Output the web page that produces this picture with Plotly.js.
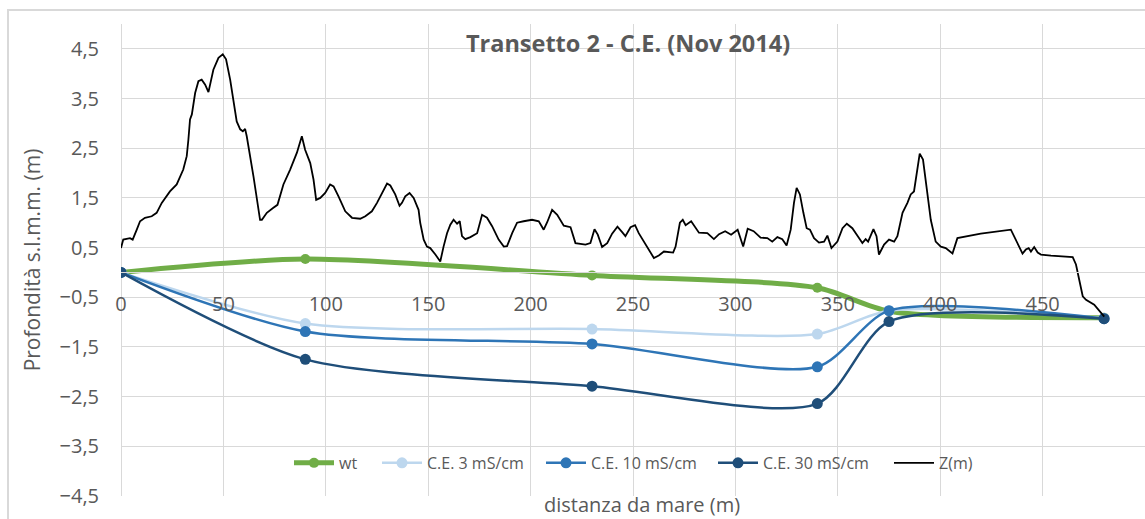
<!DOCTYPE html>
<html>
<head>
<meta charset="utf-8">
<script src="https://cdn.plot.ly/plotly-3.0.1.min.js"></script>
<style>
  html, body { margin: 0; padding: 0; width: 1145px; height: 519px; overflow: hidden; background: #fff; }
  #frame { position: absolute; left: 7px; top: 9px; width: 1300px; height: 700px; border: 2px solid #d9d9d9; box-sizing: border-box; }
  #chart { position: absolute; left: 0; top: 0; width: 1145px; height: 519px; }
</style>
</head>
<body>
<div id="frame"></div>
<div id="chart"></div>
<script>
// Measurement points (distance from sea, m)
const wtX = [0, 90, 230, 340, 375, 480];
const wtY = [0, 0.27, -0.06, -0.31, -0.78, -0.91];

const ceX = [0, 90, 230, 340, 375, 480];
const ce3Y = [0, -1.03, -1.14, -1.24, -0.77, -0.92];
const ce10Y = [0, -1.19, -1.44, -1.90, -0.77, -0.93];
const ce30Y = [0, -1.75, -2.29, -2.64, -0.99, -0.93];

// Ground profile Z(m)
const zX = [0,1.1,4.4,5.7,7.7,9.3,11.7,15.0,17.4,19.9,
23.9,27.2,30.4,32.1,32.9,33.7,34.6,36.2,37.8,39.4,
41.1,42.7,45.1,47.6,49.7,51.3,53.3,54.9,56.5,58.2,
59.5,60.6,61.4,64.7,67.9,68.8,71.2,74.4,76.4,79.3,
82.6,85.9,87.5,88.3,89.9,92.4,94.0,95.3,97.3,99.7,
102.1,103.8,106.2,109.5,112.8,116.8,119.3,122.5,125.0,127.4,
129.9,131.5,133.9,136.0,137.2,138.8,140.9,142.9,144.5,145.3,
146.1,147.8,149.4,151.0,153.5,155.9,157.5,159.2,160.8,162.4,
164.1,165.4,166.5,168.1,170.6,173.9,176.3,178.7,181.2,184.4,
186.9,188.5,191.0,193.4,196.6,200.7,204.0,206.4,208.1,210.5,
213.0,216.2,219.5,221.9,226.8,229.2,231.2,232.8,234.9,237.4,
239.8,242.4,244.7,246.3,248.8,251.0,252.8,255.3,257.7,260.2,
262.6,265.1,269.6,270.8,272.9,274.3,275.7,278.4,282.2,286.3,
289.5,292.0,295.0,297.9,301.1,303.8,306.0,308.9,312.3,315.6,
318.0,320.5,322.9,325.0,327.0,328.6,329.9,331.5,333.2,334.8,
336.4,338.4,340.8,343.3,344.9,346.9,349.8,352.3,354.4,357.1,
359.6,362.0,363.6,364.8,367.4,368.9,370.1,372.6,375.0,377.5,
379.1,381.6,384.0,385.6,387.2,388.9,390.0,391.6,393.7,395.4,
397.8,400.3,402.7,406.0,408.4,419.8,434.5,436.1,438.6,440.2,
441.8,443.2,444.3,445.9,447.6,449.2,454.1,464.7,466.3,467.9,
469.6,471.2,475.2,480.1];
const zY = [0.49,0.66,0.69,0.66,0.86,1.03,1.10,1.13,1.20,1.40,
1.63,1.77,2.07,2.34,2.67,3.08,3.18,3.61,3.85,3.88,
3.78,3.63,4.08,4.32,4.39,4.29,3.88,3.48,3.04,2.88,
2.84,2.89,2.74,1.93,1.06,1.06,1.20,1.30,1.36,1.77,
2.07,2.41,2.61,2.74,2.47,2.20,1.87,1.46,1.50,1.60,
1.77,1.73,1.53,1.23,1.10,1.08,1.13,1.23,1.40,1.60,
1.79,1.75,1.57,1.34,1.40,1.53,1.60,1.50,1.33,1.26,
1.00,0.66,0.52,0.49,0.36,0.22,0.52,0.79,0.96,1.06,
0.98,1.03,0.73,0.67,0.71,0.79,1.16,1.10,0.93,0.66,
0.52,0.53,0.79,1.00,1.03,1.06,1.03,0.86,1.01,1.26,
1.16,0.94,0.91,0.59,0.56,0.59,0.87,0.76,0.51,0.59,
0.78,0.92,0.81,0.73,0.91,0.95,0.79,0.63,0.46,0.29,
0.34,0.42,0.40,0.52,1.00,1.06,0.95,1.03,0.80,0.79,
0.67,0.77,0.83,0.76,0.86,0.52,0.88,0.83,0.70,0.69,
0.62,0.71,0.67,0.54,0.86,1.40,1.70,1.57,1.20,0.89,
0.86,0.69,0.60,0.62,0.74,0.49,0.62,0.89,0.98,0.89,
0.74,0.59,0.67,0.62,0.87,0.73,0.36,0.56,0.66,0.62,
0.73,1.20,1.40,1.57,1.63,2.14,2.39,2.27,1.60,1.06,
0.62,0.52,0.49,0.38,0.69,0.78,0.86,0.73,0.52,0.38,
0.46,0.49,0.42,0.51,0.40,0.36,0.34,0.31,0.16,-0.15,
-0.48,-0.55,-0.65,-0.89];

const seriesNames = ['wt', 'C.E. 3 mS/cm', 'C.E. 10 mS/cm', 'C.E. 30 mS/cm', 'Z(m)'];
const titleText = 'Transetto 2 - C.E. (Nov 2014)';
const xTitle = 'distanza da mare (m)';
const yTitle = 'Profondità s.l.m.m. (m)';

const yMin = -4.5, yMax = 5;
const txtColor = '#595959';
const gridColor = '#d9d9d9';
const fontFam = '"Open Sans", "DejaVu Sans", sans-serif';
const plotLeft = 121, plotWidth = 1024;
// legend entry left edges (px) - one legend per series, spread like the original
const legendPx = [289, 377, 541, 713, 889];
const legendIds = ['legend2', 'legend3', 'legend4', 'legend5', 'legend6'];

const sm = 0.75;
const traces = [
  { x: wtX, y: wtY, name: seriesNames[0], mode: 'lines+markers', type: 'scatter', legend: legendIds[0],
    line: { color: '#70ad47', width: 5, shape: 'spline', smoothing: sm }, marker: { color: '#70ad47', size: 10 } },
  { x: ceX, y: ce3Y, name: seriesNames[1], mode: 'lines+markers', type: 'scatter', legend: legendIds[1],
    line: { color: '#bdd7ee', width: 2.5, shape: 'spline', smoothing: sm }, marker: { color: '#bdd7ee', size: 11 } },
  { x: ceX, y: ce10Y, name: seriesNames[2], mode: 'lines+markers', type: 'scatter', legend: legendIds[2],
    line: { color: '#2e75b6', width: 2.5, shape: 'spline', smoothing: sm }, marker: { color: '#2e75b6', size: 11 } },
  { x: ceX, y: ce30Y, name: seriesNames[3], mode: 'lines+markers', type: 'scatter', legend: legendIds[3],
    line: { color: '#1f4e79', width: 2.5, shape: 'spline', smoothing: sm }, marker: { color: '#1f4e79', size: 11 } },
  { x: zX, y: zY, name: seriesNames[4], mode: 'lines', type: 'scatter', legend: legendIds[4],
    line: { color: '#000000', width: 1.8 } }
];

const layout = {
  width: 1145, height: 519,
  showlegend: true,
  margin: { l: plotLeft, r: 0, t: 24, b: 23, pad: 0 },
  paper_bgcolor: 'rgba(0,0,0,0)',
  plot_bgcolor: 'rgba(0,0,0,0)',
  separators: ',.',
  font: { family: fontFam, color: txtColor, size: 20 },
  title: { text: titleText, x: 0.5485, xanchor: 'center', y: 0.915, yanchor: 'middle', yref: 'container',
           font: { family: fontFam, size: 23.5, color: txtColor, weight: 'bold' } },
  xaxis: {
    range: [0, 500], tick0: 0, dtick: 50, anchor: 'free', position: (0 - yMin) / (yMax - yMin),
    showgrid: true, gridcolor: gridColor, gridwidth: 1,
    zeroline: true, zerolinecolor: gridColor, zerolinewidth: 1,
    showline: true, linecolor: gridColor, linewidth: 1,
    ticks: '', ticklabelstandoff: 14,
    tickfont: { family: fontFam, size: 20, color: txtColor }
  },
  yaxis: {
    range: [yMin, yMax], tick0: 0.5, dtick: 1, tickformat: '.1f',
    showgrid: true, gridcolor: gridColor, gridwidth: 1,
    zeroline: false, showline: false,
    ticks: '', ticklabelstandoff: 21,
    tickfont: { family: fontFam, size: 20, color: txtColor },
    title: { text: yTitle, standoff: 13, font: { family: fontFam, size: 21, color: txtColor } }
  },
  annotations: [
    { text: xTitle, xref: 'paper', yref: 'paper', x: (642 - plotLeft) / plotWidth, y: (496 - 504) / 472,
      xanchor: 'center', yanchor: 'middle',
      showarrow: false, font: { family: fontFam, size: 20, color: txtColor } }
  ]
};

legendIds.forEach((id, i) => {
  layout[id] = {
    visible: true,
    orientation: 'h', x: (legendPx[i] - plotLeft) / plotWidth, xanchor: 'left', y: 0.07, yanchor: 'middle',
    bgcolor: 'rgba(0,0,0,0)', font: { family: fontFam, size: 16, color: txtColor },
    itemwidth: 40
  };
});

Plotly.newPlot('chart', traces, layout, { displayModeBar: false, staticPlot: true });
</script>
</body>
</html>
